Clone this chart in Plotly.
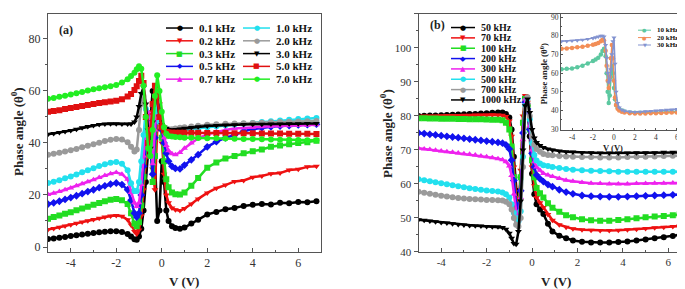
import plotly.graph_objects as go

W, H = 685, 289

# ---------------- panel (a): phase angle vs bias, low frequencies ----------------
V_A = [-5.0, -4.75, -4.5, -4.25, -4.0, -3.75, -3.5, -3.25, -3.0, -2.75, -2.5, -2.25, -2.0, -1.75, -1.5,
       -1.35, -1.2, -1.1, -1.0, -0.9, -0.8, -0.7, -0.6, -0.5, -0.4, -0.3, -0.2, -0.1, 0.0, 0.1, 0.2, 0.3, 0.45, 0.6, 0.8,
       1.0, 1.3, 1.6, 2.0, 2.4, 2.8, 3.2, 3.6, 4.0, 4.4, 4.8, 5.2, 5.6, 6.0, 6.4, 6.8]

FREQ_A = ["0.1 kHz", "0.2 kHz", "0.3 kHz", "0.5 kHz", "0.7 kHz",
          "1.0 kHz", "2.0 kHz", "3.0 kHz", "5.0 kHz", "7.0 kHz"]

PHASE_A_01 = [3.1, 3.3, 3.6, 3.9, 4.2, 4.5, 4.8, 5.1, 5.4, 5.7, 5.9, 6.1, 6.1, 5.8, 5.0,
              4.0, 3.0, 2.8, 4.0, 7.0, 14.0, 25.0, 38.0, 50.0, 60.0, 35.0, 10.0, 14.0, 33.0, 25.0, 14.0, 10.0, 8.0, 7.3, 7.0,
              7.5, 9.0, 10.5, 12.5, 13.5, 14.5, 15.0, 15.8, 16.2, 16.5, 16.3, 17.0, 16.8, 17.3, 17.2, 17.6]
PHASE_A_02 = [6.7, 7.1, 7.6, 8.1, 8.6, 9.1, 9.6, 10.1, 10.6, 11.1, 11.5, 11.9, 12.1, 11.8, 10.5,
              8.5, 6.0, 5.0, 6.5, 12.0, 22.0, 34.0, 45.0, 52.0, 30.0, 22.0, 45.0, 55.0, 40.0, 28.0, 20.0, 17.0, 15.0, 14.3, 14.0,
              14.8, 16.5, 18.5, 20.8, 22.6, 23.8, 25.2, 25.6, 26.8, 27.3, 28.2, 28.4, 29.6, 29.9, 30.8, 31.0]
PHASE_A_03 = [10.9, 11.5, 12.1, 12.8, 13.4, 14.1, 14.8, 15.5, 16.2, 16.9, 17.6, 18.2, 18.5, 18.0, 16.5,
              13.0, 9.0, 8.0, 9.5, 16.0, 27.0, 38.0, 48.0, 40.0, 25.0, 35.0, 55.0, 50.0, 42.0, 33.0, 26.0, 23.0, 21.0, 20.3, 20.2,
              21.0, 23.5, 26.5, 30.5, 32.5, 34.0, 35.0, 36.0, 36.8, 37.5, 38.5, 39.0, 39.5, 40.0, 40.3, 40.8]
PHASE_A_05 = [16.5, 17.0, 17.6, 18.3, 19.0, 19.7, 20.5, 21.3, 22.0, 22.8, 23.5, 24.2, 24.6, 24.0, 22.0,
              18.0, 13.0, 11.5, 13.0, 20.0, 31.0, 42.0, 50.0, 38.0, 28.0, 42.0, 58.0, 52.0, 45.0, 40.0, 36.0, 33.0, 31.0, 30.2, 30.0,
              31.5, 33.5, 35.5, 38.5, 40.5, 42.0, 43.0, 44.5, 45.3, 45.8, 46.2, 46.5, 46.7, 46.9, 47.0, 47.2]
PHASE_A_07 = [20.2, 20.7, 21.3, 22.0, 22.7, 23.5, 24.3, 25.1, 25.9, 26.7, 27.5, 28.2, 28.6, 28.0, 26.0,
              21.0, 17.0, 15.6, 17.0, 24.0, 35.0, 45.0, 52.0, 42.0, 32.0, 45.0, 56.0, 50.0, 46.0, 42.0, 39.0, 37.0, 35.8, 35.5, 36.3,
              38.0, 40.0, 41.8, 43.3, 44.3, 45.0, 45.5, 45.8, 46.0, 46.2, 46.4, 46.5, 46.6, 46.7, 46.8, 47.0]
PHASE_A_10 = [24.6, 25.1, 25.7, 26.4, 27.1, 27.9, 28.7, 29.5, 30.3, 31.1, 31.8, 32.4, 32.7, 32.0, 29.5,
              24.5, 21.5, 21.5, 25.0, 33.0, 43.0, 53.0, 45.0, 35.0, 45.0, 55.0, 52.0, 48.0, 46.0, 45.0, 44.5, 44.3, 44.3, 44.5, 44.8,
              45.0, 45.3, 45.6, 46.0, 46.4, 46.8, 47.1, 47.4, 47.7, 48.0, 48.3, 48.6, 48.9, 49.2, 49.4, 49.6]
PHASE_A_20 = [35.5, 35.8, 36.2, 36.7, 37.2, 37.7, 38.3, 38.9, 39.5, 40.1, 40.7, 41.2, 41.5, 41.3, 40.3,
              38.5, 36.7, 37.5, 45.0, 55.0, 58.0, 50.0, 40.0, 38.0, 50.0, 58.0, 56.0, 50.0, 47.0, 46.0, 45.5, 45.3, 45.3, 45.5, 45.8,
              46.0, 46.3, 46.6, 47.0, 47.2, 47.4, 47.5, 47.6, 47.7, 47.8, 47.9, 48.0, 48.1, 48.2, 48.3, 48.4]
PHASE_A_30 = [43.3, 43.6, 44.0, 44.4, 44.8, 45.3, 45.8, 46.3, 46.7, 47.1, 47.3, 47.4, 47.4, 47.3, 47.3,
              47.3, 48.0, 50.0, 54.0, 59.0, 61.4, 55.0, 45.0, 38.0, 48.0, 60.0, 57.0, 50.0, 47.0, 46.0, 45.5, 45.2, 45.0, 45.2, 45.4,
              45.6, 45.9, 46.2, 46.5, 46.7, 46.9, 47.0, 47.1, 47.2, 47.2, 47.3, 47.3, 47.4, 47.4, 47.5, 47.5]
PHASE_A_50 = [52.0, 52.3, 52.6, 53.0, 53.4, 53.8, 54.2, 54.6, 55.0, 55.3, 55.6, 55.9, 56.2, 56.8, 57.8,
              58.8, 60.3, 61.8, 63.8, 65.8, 63.0, 50.0, 40.0, 45.0, 55.0, 62.0, 58.0, 50.0, 46.0, 44.8, 44.2, 44.0, 43.9, 43.9, 43.9,
              43.9, 43.9, 43.9, 43.8, 43.8, 43.8, 43.7, 43.7, 43.7, 43.6, 43.6, 43.6, 43.5, 43.5, 43.5, 43.4]
PHASE_A_70 = [57.0, 57.3, 57.7, 58.1, 58.6, 59.1, 59.6, 60.1, 60.6, 61.0, 61.4, 61.8, 62.3, 63.2, 64.5,
              65.7, 67.0, 68.3, 69.5, 68.5, 62.0, 50.0, 38.0, 35.0, 45.0, 58.0, 66.0, 60.0, 52.0, 46.0, 43.5, 42.7, 42.5, 42.3, 42.2,
              42.0, 42.0, 41.9, 41.8, 41.8, 41.7, 41.6, 41.5, 41.5, 41.4, 41.3, 41.2, 41.2, 41.1, 41.0, 41.0]

PHASES_A = [PHASE_A_01, PHASE_A_02, PHASE_A_03, PHASE_A_05, PHASE_A_07,
            PHASE_A_10, PHASE_A_20, PHASE_A_30, PHASE_A_50, PHASE_A_70]

# ---------------- panel (b): high frequencies ----------------
V_B = [-5.0, -4.75, -4.5, -4.25, -4.0, -3.75, -3.5, -3.25, -3.0, -2.75, -2.5, -2.25, -2.0, -1.75, -1.5,
       -1.3, -1.15, -1.0, -0.9, -0.8, -0.7, -0.6, -0.5, -0.4, -0.3, -0.2, -0.1, 0.0, 0.1, 0.2,
       0.35, 0.5, 0.7, 0.9, 1.2, 1.5, 1.8, 2.2, 2.6, 3.0, 3.4, 3.8, 4.2, 4.6, 5.0, 5.4, 5.8, 6.2, 6.5, 6.8]

FREQ_B = ["50 kHz", "70 kHz", "100 kHz", "200 kHz", "300 kHz", "500 kHz", "700 kHz", "1000 kHz"]

PHASE_B_50 = [80.0, 80.05, 80.1, 80.15, 80.2, 80.3, 80.35, 80.4, 80.5, 80.55, 80.6, 80.7, 80.8, 80.9, 81.0,
              81.0, 80.6, 79.5, 76.0, 68.0, 58.0, 51.0, 62.0, 78.0, 85.5, 83.0, 74.0, 63.0, 57.0, 54.0,
              52.5, 51.2, 48.3, 46.0, 44.8, 44.0, 43.4, 43.0, 42.8, 42.8, 42.8, 42.9, 43.1, 43.4, 43.7, 44.0, 44.3, 44.7, 45.0, 45.3]
PHASE_B_70 = [79.9, 79.95, 80.0, 80.0, 80.05, 80.1, 80.1, 80.15, 80.2, 80.2, 80.25, 80.3, 80.3, 80.35, 80.3,
              80.2, 79.8, 78.5, 74.0, 65.0, 56.0, 52.0, 64.0, 80.0, 86.0, 84.0, 76.0, 65.0, 59.5, 56.0,
              54.5, 53.1, 51.0, 49.3, 48.0, 47.3, 46.8, 46.5, 46.4, 46.3, 46.3, 46.4, 46.5, 46.7, 46.9, 47.1, 47.3, 47.5, 47.7, 47.8]
PHASE_B_100 = [79.3, 79.3, 79.25, 79.25, 79.2, 79.2, 79.15, 79.1, 79.1, 79.05, 79.0, 79.0, 78.95, 78.9, 78.9,
               78.7, 78.0, 76.0, 71.0, 62.0, 53.0, 51.0, 62.0, 78.0, 85.0, 83.0, 76.0, 67.0, 62.0, 58.8,
               57.3, 56.0, 54.3, 53.0, 51.8, 50.8, 50.2, 49.6, 49.3, 49.2, 49.2, 49.4, 49.6, 49.9, 50.2, 50.4, 50.6, 50.8, 51.0, 51.2]
PHASE_B_200 = [75.0, 74.8, 74.6, 74.4, 74.2, 74.0, 73.8, 73.6, 73.4, 73.2, 73.0, 72.8, 72.6, 72.4, 72.2,
               72.0, 71.5, 70.3, 67.0, 61.0, 54.0, 50.0, 58.0, 75.0, 84.0, 82.0, 76.0, 69.0, 65.0, 62.6,
               61.5, 60.7, 59.8, 59.2, 58.3, 57.6, 57.1, 56.6, 56.4, 56.3, 56.2, 56.2, 56.3, 56.4, 56.5, 56.6, 56.7, 56.8, 56.9, 56.9]
PHASE_B_300 = [70.5, 70.3, 70.1, 69.9, 69.7, 69.5, 69.3, 69.1, 68.9, 68.7, 68.5, 68.2, 68.0, 67.7, 67.4,
               67.1, 66.5, 65.3, 62.5, 57.0, 52.0, 49.5, 56.0, 73.0, 85.0, 84.0, 77.0, 70.0, 66.5, 65.0,
               64.0, 63.1, 62.6, 62.2, 61.6, 61.1, 60.8, 60.4, 60.2, 60.1, 60.0, 60.0, 60.0, 60.1, 60.1, 60.2, 60.2, 60.3, 60.3, 60.3]
PHASE_B_500 = [61.4, 61.1, 60.8, 60.5, 60.2, 59.9, 59.6, 59.3, 59.0, 58.7, 58.5, 58.3, 58.1, 57.9, 57.8,
               57.5, 57.0, 56.0, 54.0, 51.5, 50.0, 49.0, 52.0, 68.0, 83.0, 85.0, 79.0, 72.0, 68.5, 66.9,
               66.0, 65.5, 65.3, 65.0, 64.7, 64.4, 64.2, 64.0, 63.9, 63.8, 63.7, 63.6, 63.6, 63.6, 63.6, 63.6, 63.6, 63.6, 63.6, 63.6]
PHASE_B_700 = [57.7, 57.4, 57.1, 56.8, 56.5, 56.3, 56.1, 55.9, 55.7, 55.6, 55.5, 55.4, 55.3, 55.3, 55.2,
               55.1, 54.8, 54.0, 52.5, 50.0, 48.0, 47.5, 50.0, 65.0, 82.0, 85.5, 80.0, 74.0, 71.5, 70.3,
               69.5, 68.8, 68.5, 68.4, 68.2, 68.1, 68.0, 67.9, 67.9, 67.8, 67.8, 67.8, 67.9, 68.0, 68.0, 68.1, 68.2, 68.3, 68.3, 68.4]
PHASE_B_1000 = [49.5, 49.3, 49.1, 48.9, 48.7, 48.5, 48.3, 48.1, 47.9, 47.8, 47.7, 47.6, 47.5, 47.4, 47.4,
                47.2, 46.7, 45.5, 44.0, 42.5, 42.3, 46.0, 55.0, 70.0, 83.0, 85.0, 81.0, 76.0, 73.5, 72.2,
                71.3, 70.7, 70.3, 70.0, 69.7, 69.5, 69.4, 69.2, 69.2, 69.1, 69.1, 69.1, 69.1, 69.2, 69.2, 69.2, 69.3, 69.3, 69.3, 69.3]

PHASES_B = [PHASE_B_50, PHASE_B_70, PHASE_B_100, PHASE_B_200,
            PHASE_B_300, PHASE_B_500, PHASE_B_700, PHASE_B_1000]

# ---------------- inset of (b): 10-30 kHz ----------------
V_I = [-5.0, -4.5, -4.0, -3.5, -3.0, -2.5, -2.0,
       -1.75, -1.5, -1.25, -1.1, -0.95, -0.8, -0.7, -0.6, -0.5, -0.4, -0.3, -0.2, -0.1, 0.0, 0.1, 0.2, 0.35, 0.5, 0.75, 1.0,
       1.5, 2.0, 2.5, 3.0, 3.5, 4.0, 4.5, 5.0, 5.5, 6.0, 6.5, 7.0]
FREQ_I = ["10 kHz", "20 kHz", "30 kHz"]
PHASE_I_10 = [62.1, 62.3, 62.5, 63.2, 64.0, 65.2, 66.5,
              67.3, 68.2, 70.0, 71.8, 73.0, 69.0, 60.0, 50.0, 44.0, 48.0, 58.0, 64.0, 60.0, 52.0, 46.0, 43.0, 41.5, 40.5, 40.0, 39.5,
              39.0, 38.8, 38.8, 38.8, 38.9, 39.0, 39.1, 39.2, 39.3, 39.4, 39.5, 39.6]
PHASE_I_20 = [73.0, 73.2, 73.5, 73.8, 74.1, 74.6, 75.2,
              75.6, 76.1, 77.0, 77.8, 77.5, 72.0, 64.0, 56.0, 52.0, 58.0, 68.0, 75.0, 68.0, 56.0, 47.0, 43.0, 41.0, 40.0, 39.3, 39.0,
              38.6, 38.4, 38.4, 38.4, 38.5, 38.6, 38.7, 38.8, 38.9, 39.0, 39.0, 39.1]
PHASE_I_30 = [77.0, 77.1, 77.3, 77.5, 77.8, 78.2, 78.7,
              79.1, 79.5, 79.9, 80.0, 79.5, 75.0, 68.0, 60.0, 55.0, 56.0, 62.0, 70.0, 77.0, 79.0, 65.0, 50.0, 44.0, 41.5, 40.3, 39.8,
              39.4, 39.2, 39.3, 39.5, 39.7, 39.9, 40.1, 40.3, 40.5, 40.7, 40.9, 41.0]
PHASES_I = [PHASE_I_10, PHASE_I_20, PHASE_I_30]

# ---------------- tick labels ----------------
X_TICKS = [-4, -2, 0, 2, 4, 6]
X_TICKTEXT = ["-4", "-2", "0", "2", "4", "6"]
Y_TICKS_A = [0, 20, 40, 60, 80]
Y_TICKS_B = [40, 50, 60, 70, 80, 90, 100, 110]
Y_TICKS_I = [30, 40, 50, 60, 70, 80, 90]

# ---------------- styles ----------------
COLORS_A = ["#000000", "#ee1111", "#22dd22", "#1111ee", "#ee22ee",
            "#22e0ee", "#9a9a9a", "#000000", "#e01010", "#22ee22"]
SYMBOLS_A = ["circle", "triangle-down", "square", "diamond", "triangle-up",
             "circle", "circle", "triangle-down", "square", "circle"]
COLORS_B = ["#000000", "#ee1111", "#22dd22", "#1111ee", "#ee22ee", "#22e0ee", "#9a9a9a", "#000000"]
SYMBOLS_B = ["circle", "triangle-down", "square", "diamond", "triangle-up", "circle", "circle", "triangle-down"]
COLORS_I = ["#5cc8a0", "#f28e57", "#8393d0"]
SYMBOLS_I = ["circle", "circle", "triangle-down"]

SERIF = "Liberation Serif"
AXCOL = "#555555"

fig = go.Figure()

for name, ys, c, s in zip(FREQ_A, PHASES_A, COLORS_A, SYMBOLS_A):
    fig.add_trace(go.Scatter(x=V_A, y=ys, name=name, mode="lines+markers",
                             line=dict(color=c, width=2.5), marker=dict(color=c, symbol=s, size=6),
                             xaxis="x", yaxis="y", showlegend=False))
for name, ys, c, s in zip(FREQ_B, PHASES_B, COLORS_B, SYMBOLS_B):
    fig.add_trace(go.Scatter(x=V_B, y=ys, name=name, mode="lines+markers",
                             line=dict(color=c, width=2.5), marker=dict(color=c, symbol=s, size=6),
                             xaxis="x2", yaxis="y2", showlegend=False))
for name, ys, c, s in zip(FREQ_I, PHASES_I, COLORS_I, SYMBOLS_I):
    fig.add_trace(go.Scatter(x=V_I, y=ys, name=name, mode="lines+markers",
                             line=dict(color=c, width=1.5), marker=dict(color=c, symbol=s, size=4.5),
                             xaxis="x3", yaxis="y3", showlegend=False))


def dom_x(a, b):
    return [a / W, b / W]


def dom_y(top, bottom):
    return [1 - bottom / H, 1 - top / H]


def xaxis_cfg(domain, anchor, rng, fsize, tlen):
    return dict(domain=domain, anchor=anchor, range=rng, tickmode="array",
                tickvals=X_TICKS, ticktext=X_TICKTEXT, ticks="inside", ticklen=tlen,
                tickcolor=AXCOL, showline=True, mirror=True, linecolor=AXCOL, linewidth=1,
                showgrid=False, zeroline=False,
                tickfont=dict(family=SERIF, size=fsize, color="#333333"),
                minor=dict(tickmode="linear", tick0=0, dtick=1, ticks="inside",
                           ticklen=max(tlen - 2, 1), tickcolor=AXCOL))


def yaxis_cfg(domain, anchor, rng, vals, fsize, tlen, mdt, ticks="outside"):
    return dict(domain=domain, anchor=anchor, range=rng, tickmode="array", tickvals=vals,
                ticks=ticks, ticklen=tlen, tickcolor=AXCOL, showline=True, mirror=True,
                linecolor=AXCOL, linewidth=1, showgrid=False, zeroline=False,
                tickfont=dict(family=SERIF, size=fsize, color="#333333"),
                minor=dict(tickmode="linear", tick0=0, dtick=mdt, ticks=ticks,
                           ticklen=max(tlen - 2, 1), tickcolor=AXCOL))


shapes = []
annotations = []


def ann(text, x, y, size, xanchor="center", angle=0, family=SERIF, color="#222222"):
    annotations.append(dict(text=text, x=x / W, y=1 - y / H, xref="paper", yref="paper",
                            showarrow=False, xanchor=xanchor, yanchor="middle", textangle=angle,
                            font=dict(family=family, size=size, color=color)))


GLYPH = {"circle": "●", "triangle-down": "▼", "square": "■", "diamond": "◆", "triangle-up": "▲"}


def legend_entry(x0, x1, y, color, symbol, label, fsize, gsize, lw=1.5):
    shapes.append(dict(type="line", xref="paper", yref="paper", x0=x0 / W, x1=x1 / W,
                       y0=1 - y / H, y1=1 - y / H, line=dict(color=color, width=lw)))
    ann(GLYPH[symbol], (x0 + x1) / 2, y, gsize, family="DejaVu Sans", color=color)
    ann("<b>" + label + "</b>", x1 + 4, y, fsize, xanchor="left", color="#111111")


# legend (a): two columns of five
for i, (name, c, s) in enumerate(zip(FREQ_A, COLORS_A, SYMBOLS_A)):
    col, row = divmod(i, 5)
    x0 = 158 if col == 0 else 235
    legend_entry(x0, x0 + 27, 19.5 + 13.1 * row, c, s, name, 11, 7)

# legend (b)
for i, (name, c, s) in enumerate(zip(FREQ_B, COLORS_B, SYMBOLS_B)):
    legend_entry(443, 467, 19 + 10.6 * i, c, s, name, 10, 7)

# legend inset
for i, (name, c, s) in enumerate(zip(FREQ_I, COLORS_I, SYMBOLS_I)):
    legend_entry(630, 643, 21.7 + 7.6 * i, c, s, name, 7, 5, lw=1)

YTITLE = "<b>Phase angle (θ<sup>0</sup>)</b>"
ann(YTITLE, 9, 126, 13, angle=-90)
ann("<b>V (V)</b>", 176.5, 279, 13)
ann(YTITLE, 378, 128, 13, angle=-90)
ann("<b>V (V)</b>", 548, 279, 13)
ann(YTITLE, 536, 67, 9, angle=-90)
ann("<b>V (V)</b>", 605, 142.5, 8.5)
ann("<b>(a)</b>", 49, 21.5, 12, xanchor="left")
ann("<b>(b)</b>", 420, 16, 12, xanchor="left")

fig.update_layout(
    width=W, height=H,
    margin=dict(l=0, r=0, t=0, b=0),
    paper_bgcolor="white", plot_bgcolor="white",
    showlegend=False,
    xaxis=xaxis_cfg(dom_x(40, 313), "y", [-5, 7], 12, 4),
    yaxis=yaxis_cfg(dom_y(4.7, 249), "x", [-1.9, 89.7], Y_TICKS_A, 12, 4, 10),
    xaxis2=xaxis_cfg(dom_x(410.5, 683), "y2", [-5, 7], 11, 4),
    yaxis2=yaxis_cfg(dom_y(5, 249), "x2", [40, 110], Y_TICKS_B, 11, 4, 5),
    xaxis3=xaxis_cfg(dom_x(553, 681.5), "y3", [-5.05, 7.2], 7.5, 2),
    yaxis3=yaxis_cfg(dom_y(5, 124), "x3", [29.6, 91.7], Y_TICKS_I, 7.5, 2, 5, ticks="inside"),
    shapes=shapes,
    annotations=annotations,
)

fig.write_html("out.html")
